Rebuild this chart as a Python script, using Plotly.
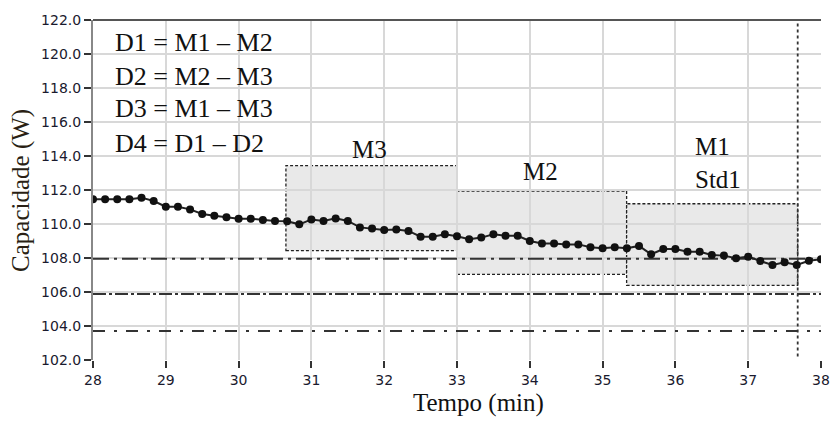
import plotly.graph_objects as go

# ---------------- data ----------------
time_min = [28 + k / 6 for k in range(61)]
capacity_w = [
    111.45, 111.45, 111.45, 111.45, 111.55, 111.35, 111.02, 111.02, 110.86, 110.59,
    110.49, 110.39, 110.31, 110.31, 110.24, 110.18, 110.16, 109.98, 110.27, 110.18,
    110.33, 110.18, 109.80, 109.73, 109.65, 109.67, 109.59, 109.25, 109.25, 109.39,
    109.28, 109.10, 109.20, 109.39, 109.31, 109.31, 109.00, 108.86, 108.86, 108.80,
    108.80, 108.63, 108.57, 108.63, 108.57, 108.71, 108.22, 108.53, 108.53, 108.37,
    108.37, 108.18, 108.14, 107.98, 108.08, 107.82, 107.59, 107.75, 107.59, 107.84,
    107.92,
]

ref_levels = [107.95, 105.88, 103.70]
ref_dashes = ["16px,5px,3px,5px", "13px,3px,3px,3px", "12px,9px,3px,9px"]

end_time = 37.68

box_names = ["M3", "M2", "M1"]
box_x0 = [30.65, 33.0, 35.33]
box_x1 = [33.0, 35.33, 37.68]
box_y0 = [108.43, 107.04, 106.39]
box_y1 = [113.43, 111.94, 111.19]

box_labels = ["M3", "M2", "M1<br>Std1"]
box_label_x = [31.8, 34.15, 36.24]
box_label_y = [114.4, 113.06, 113.6]
box_label_anchor = ["center", "center", "left"]

legend_lines = ["D1 = M1 – M2", "D2 = M2 – M3", "D3 = M1 – M3", "D4 = D1 – D2"]
legend_y = [120.65, 118.7, 116.8, 114.76]
legend_x = 28.28

x_ticks = list(range(28, 39))
y_ticks = [102 + 2 * i for i in range(11)]

SERIF = "Liberation Serif, Times New Roman, serif"
SANS = "DejaVu Sans, Verdana, sans-serif"

fig = go.Figure()

# boxes (below grid)
for x0, x1, y0, y1 in zip(box_x0, box_x1, box_y0, box_y1):
    fig.add_shape(type="rect", x0=x0, x1=x1, y0=y0, y1=y1, xref="x", yref="y",
                  fillcolor="#e9e9e9", line=dict(color="#222", width=1.3, dash="3px,2px"),
                  layer="below")

# reference dash-dot lines
for lv, dsh in zip(ref_levels, ref_dashes):
    fig.add_trace(go.Scatter(x=[x_ticks[0], x_ticks[-1]], y=[lv, lv], mode="lines",
                             line=dict(color="#333", width=2, dash=dsh),
                             hoverinfo="skip", showlegend=False, cliponaxis=True))

# vertical dotted end line
fig.add_trace(go.Scatter(x=[end_time, end_time], y=[102.2, 121.8], mode="lines",
                         line=dict(color="#333", width=1.8, dash="3px,3px"),
                         hoverinfo="skip", showlegend=False))

# data series
fig.add_trace(go.Scatter(x=time_min, y=capacity_w, mode="lines+markers",
                         line=dict(color="#222", width=2),
                         marker=dict(color="#111", size=8),
                         showlegend=False, cliponaxis=True))

# top border
fig.add_shape(type="line", xref="paper", yref="paper", x0=0, x1=1, y0=1, y1=1,
              line=dict(color="#555", width=2), layer="above")

annotations = []
for txt, yv in zip(legend_lines, legend_y):
    annotations.append(dict(x=legend_x, y=yv, xref="x", yref="y", text=txt,
                            showarrow=False, xanchor="left", yanchor="middle",
                            font=dict(family=SERIF, size=26, color="#111")))
for txt, xv, yv, anc in zip(box_labels, box_label_x, box_label_y, box_label_anchor):
    annotations.append(dict(x=xv, y=yv, xref="x", yref="y", text=txt,
                            showarrow=False, xanchor=anc, yanchor="middle", align="left",
                            font=dict(family=SERIF, size=25, color="#111")))
annotations.append(dict(x=0.529, y=-0.126, xref="paper", yref="paper", text="Tempo (min)",
                        showarrow=False, xanchor="center", yanchor="middle",
                        font=dict(family=SERIF, size=25, color="#111")))
annotations.append(dict(x=-0.099, y=0.5, xref="paper", yref="paper", text="Capacidade (W)",
                        showarrow=False, xanchor="center", yanchor="middle", textangle=-90,
                        font=dict(family=SERIF, size=25, color="#2a1f14")))

fig.update_layout(
    width=832, height=424, autosize=False,
    margin=dict(l=93, r=11, t=20, b=64, autoexpand=False),
    paper_bgcolor="white", plot_bgcolor="white",
    annotations=annotations,
    showlegend=False,
)
fig.update_xaxes(range=[28, 38], tickvals=x_ticks, ticktext=[str(v) for v in x_ticks],
                 showgrid=True, gridcolor="#d8d8d8", gridwidth=1.5, automargin=False,
                 ticks="outside", ticklen=7, tickwidth=2, tickcolor="#333",
                 showline=False, zeroline=False,
                 tickfont=dict(family=SANS, size=14, color="#1a1a2e"))
fig.update_yaxes(range=[102, 122], tickvals=y_ticks, ticktext=[f"{v:.1f}" for v in y_ticks],
                 showgrid=True, gridcolor="#d8d8d8", gridwidth=1.5, automargin=False,
                 ticks="outside", ticklen=7, tickwidth=2, tickcolor="#333",
                 showline=True, linecolor="#888", linewidth=2, zeroline=False,
                 tickfont=dict(family=SANS, size=14, color="#1a1a2e"))

fig.write_html("out.html")
